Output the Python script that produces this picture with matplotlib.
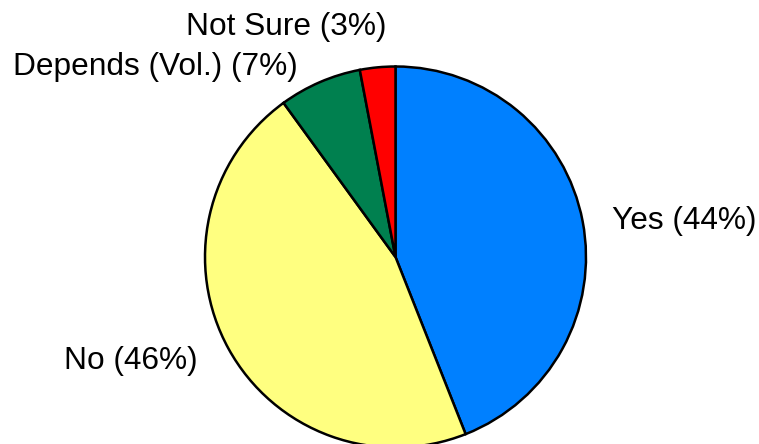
"""Survey response pie chart."""

import matplotlib
matplotlib.use("Agg")
import matplotlib.pyplot as plt

labels = ["Yes", "No", "Depends (Vol.)", "Not Sure"]
shares = [44, 46, 7, 3]
colors = ["#0080FF", "#FFFF80", "#00804F", "#FF0000"]

W, H = 759, 444

plt.rcParams["font.family"] = ["Liberation Sans", "DejaVu Sans"]

fig = plt.figure(figsize=(W / 100, H / 100), dpi=100)
ax = fig.add_axes([0, 0, 1, 1])

# pixel layout (y measured from the top of the image)
cx, cy, r = 395.5, 257, 190.5
ax.pie(shares, colors=colors, startangle=90, counterclock=False,
       center=(cx, H - cy), radius=r, frame=True,
       wedgeprops=dict(edgecolor="black", linewidth=1.8))
ax.set_xlim(0, W)
ax.set_ylim(0, H)
ax.set_aspect("equal")
ax.axis("off")

# label anchors: (x, baseline y, horizontal alignment)
label_pos = [(612, 229, "left"), (198, 369, "right"),
             (298, 75, "right"), (387, 35, "right")]
for name, val, (x, y, ha) in zip(labels, shares, label_pos):
    ax.text(x, H - y, f"{name} ({val}%)", ha=ha, va="baseline",
            fontsize=22.8, color="black")

fig.savefig("out.png", dpi=100)
